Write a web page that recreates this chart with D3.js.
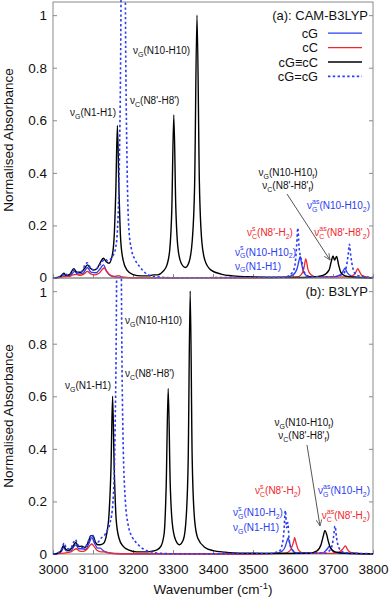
<!DOCTYPE html>
<html><head><meta charset="utf-8">
<script src="https://cdn.jsdelivr.net/npm/d3@7"></script>
<style>
html,body{margin:0;padding:0;background:#fff;}
text{font-family:"Liberation Sans",Arial,Helvetica,sans-serif;}
</style></head>
<body>
<svg id="chart" width="392" height="598"></svg>
<script>
// ---------- data (wavenumber cm-1, normalised absorbance) ----------
const xTickValues = [3000,3100,3200,3300,3400,3500,3600,3700,3800];
const yTickValues = [0,0.2,0.4,0.6,0.8,1];
const yTickLabels = ["0","0.2","0.4","0.6","0.8","1"];
const seriesNames = ["cG","cC","cG\u2261cC","cG=cG"];
const panelTitles = ["(a): CAM-B3LYP","(b): B3LYP"];

// panel (a) CAM-B3LYP
const camCG = [[3000,0],[3015,0.002],[3021,0.006],[3027,0.012],[3035,0.008],[3045,0.012],[3054,0.025],[3062,0.015],[3075,0.018],[3086,0.04],[3095,0.022],[3108,0.02],[3118,0.035],[3126,0.05],[3134,0.025],[3145,0.008],[3165,0.002],[3300,0],[3580,0.003],[3600,0.012],[3610,0.035],[3614,0.06],[3618,0.081],[3622,0.05],[3627,0.02],[3640,0.005],[3700,0.004],[3718,0.012],[3725,0.025],[3730,0.037],[3735,0.022],[3745,0.008],[3760,0.003],[3800,0.001]];
const camCC = [[3000,0],[3020,0.002],[3030,0.006],[3040,0.006],[3050,0.012],[3058,0.014],[3068,0.01],[3078,0.016],[3086,0.025],[3094,0.016],[3105,0.012],[3115,0.018],[3123,0.032],[3128,0.038],[3134,0.026],[3142,0.012],[3152,0.006],[3160,0.008],[3165,0.009],[3172,0.004],[3190,0.001],[3500,0],[3610,0.004],[3620,0.012],[3627,0.035],[3632,0.073],[3637,0.035],[3645,0.012],[3660,0.003],[3740,0.004],[3752,0.012],[3758,0.025],[3762,0.036],[3766,0.025],[3772,0.01],[3790,0.002],[3800,0.001]];
const camCGCC = [[3000,0],[3012,0.002],[3020,0.008],[3027,0.018],[3033,0.01],[3042,0.014],[3052,0.035],[3060,0.022],[3070,0.022],[3078,0.035],[3086,0.05],[3094,0.036],[3102,0.03],[3110,0.036],[3118,0.058],[3126,0.075],[3133,0.062],[3140,0.056],[3148,0.085],[3153,0.16],[3157,0.33],[3161,0.58],[3165,0.33],[3169,0.15],[3175,0.07],[3185,0.03],[3200,0.013],[3220,0.008],[3240,0.008],[3250,0.012],[3262,0.012],[3275,0.025],[3285,0.05],[3292,0.11],[3297,0.26],[3302,0.62],[3307,0.27],[3312,0.12],[3320,0.058],[3331,0.04],[3340,0.06],[3348,0.14],[3354,0.35],[3360,1.0],[3366,0.36],[3372,0.14],[3380,0.066],[3395,0.03],[3420,0.015],[3450,0.008],[3500,0.004],[3550,0.002],[3600,0.002],[3650,0.004],[3675,0.01],[3690,0.03],[3696,0.065],[3700,0.084],[3704,0.068],[3709,0.082],[3714,0.05],[3720,0.02],[3730,0.008],[3750,0.003],[3800,0.001]];
const camCGCG = [[3000,0],[3015,0.003],[3025,0.012],[3030,0.018],[3036,0.01],[3045,0.015],[3052,0.03],[3060,0.02],[3072,0.025],[3080,0.05],[3086,0.058],[3093,0.04],[3103,0.03],[3112,0.04],[3122,0.06],[3130,0.072],[3137,0.065],[3143,0.07],[3150,0.085],[3156,0.11],[3161,0.18],[3166,0.45],[3170,1.05],[3173,2.2],[3175.5,4.5],[3178,2.2],[3181,1.05],[3185,0.45],[3190,0.18],[3196,0.11],[3205,0.07],[3217,0.043],[3230,0.02],[3245,0.008],[3270,0.003],[3300,0.001],[3580,0.003],[3598,0.02],[3605,0.05],[3609,0.12],[3612,0.19],[3615,0.12],[3619,0.08],[3622,0.065],[3627,0.025],[3640,0.006],[3700,0.004],[3725,0.015],[3733,0.04],[3738,0.09],[3741,0.128],[3744,0.09],[3750,0.035],[3760,0.01],[3800,0.002]];

// panel (b) B3LYP
const b3CG = [[3000,0],[3015,0.003],[3022,0.012],[3027,0.025],[3033,0.012],[3045,0.012],[3052,0.028],[3057,0.035],[3064,0.02],[3072,0.02],[3082,0.018],[3090,0.04],[3097,0.062],[3104,0.04],[3112,0.022],[3118,0.022],[3126,0.012],[3140,0.004],[3170,0.001],[3500,0],[3560,0.003],[3574,0.012],[3581,0.03],[3585,0.05],[3588,0.061],[3592,0.04],[3598,0.015],[3610,0.004],[3670,0.003],[3680,0.01],[3686,0.02],[3691,0.03],[3696,0.018],[3703,0.007],[3720,0.002],[3800,0.001]];
const b3CC = [[3000,0],[3020,0.002],[3035,0.005],[3045,0.008],[3052,0.015],[3058,0.02],[3065,0.012],[3075,0.01],[3085,0.018],[3092,0.032],[3097,0.038],[3103,0.028],[3110,0.014],[3120,0.008],[3128,0.008],[3134,0.007],[3142,0.003],[3160,0.001],[3500,0],[3580,0.003],[3592,0.012],[3598,0.03],[3602,0.05],[3604,0.062],[3608,0.04],[3614,0.015],[3625,0.004],[3700,0.002],[3715,0.007],[3724,0.018],[3731,0.031],[3736,0.018],[3744,0.006],[3770,0.001],[3800,0]];
const b3CGCC = [[3000,0],[3012,0.003],[3020,0.012],[3026,0.032],[3032,0.018],[3040,0.014],[3050,0.03],[3057,0.044],[3064,0.028],[3072,0.03],[3080,0.025],[3088,0.045],[3095,0.07],[3100,0.07],[3106,0.045],[3112,0.035],[3118,0.035],[3126,0.04],[3134,0.075],[3140,0.15],[3145,0.33],[3149,0.6],[3153,0.33],[3158,0.13],[3165,0.06],[3175,0.03],[3190,0.015],[3210,0.008],[3230,0.008],[3245,0.01],[3260,0.016],[3270,0.03],[3278,0.08],[3283,0.26],[3288,0.63],[3293,0.27],[3298,0.12],[3306,0.055],[3316,0.035],[3326,0.055],[3333,0.14],[3338,0.36],[3343,1.0],[3348,0.36],[3354,0.13],[3362,0.06],[3380,0.025],[3400,0.013],[3430,0.007],[3480,0.003],[3550,0.002],[3640,0.003],[3660,0.012],[3670,0.035],[3676,0.07],[3680,0.09],[3684,0.075],[3688,0.05],[3694,0.022],[3705,0.008],[3730,0.003],[3800,0.001]];
const b3CGCG = [[3000,0],[3012,0.004],[3022,0.02],[3028,0.042],[3034,0.02],[3044,0.02],[3050,0.04],[3056,0.055],[3062,0.035],[3072,0.025],[3082,0.03],[3090,0.055],[3097,0.075],[3104,0.05],[3112,0.045],[3120,0.06],[3128,0.07],[3136,0.09],[3143,0.12],[3150,0.2],[3155,0.45],[3159,1.05],[3162,2.2],[3165,4.5],[3168,2.2],[3171,1.05],[3175,0.45],[3181,0.2],[3188,0.11],[3198,0.065],[3210,0.04],[3225,0.02],[3240,0.01],[3260,0.004],[3300,0.001],[3540,0.002],[3565,0.01],[3572,0.03],[3577,0.08],[3581,0.165],[3584,0.1],[3587,0.12],[3590,0.06],[3596,0.02],[3610,0.005],[3680,0.004],[3695,0.02],[3701,0.06],[3705,0.106],[3709,0.06],[3716,0.02],[3730,0.005],[3800,0.001]];

// ---------- styles ----------
const BLUE = "#2b3cf2", RED = "#f2262a", BLACK = "#000", FRAME = "#8a8a8a", ARROW = "#555";
const seriesStyle = [
  {color: BLUE, dash: null, w: 1.3},
  {color: RED, dash: null, w: 1.3},
  {color: BLACK, dash: null, w: 1.4},
  {color: BLUE, dash: "2.4,2.4", w: 1.6}
];

const svg = d3.select("#chart");
const x = d3.scaleLinear().domain([3000,3800]).range([53,373]);
const panels = [
  {y: d3.scaleLinear().domain([0,1.05]).range([278,2]), top: 2, bottom: 278, data: [camCG,camCC,camCGCC,camCGCG], clipTop: 0},
  {y: d3.scaleLinear().domain([0,1.05]).range([554,278]), top: 278, bottom: 554, data: [b3CG,b3CC,b3CGCC,b3CGCG], clipTop: 278}
];

const defs = svg.append("defs");
defs.append("marker").attr("id","arr").attr("viewBox","0 0 10 10").attr("refX",9).attr("refY",5)
  .attr("markerWidth",7).attr("markerHeight",7).attr("orient","auto").attr("markerUnits","userSpaceOnUse")
  .append("path").attr("d","M0,1 L9,5 L0,9").attr("fill","none").attr("stroke",ARROW).attr("stroke-width",1.2);

panels.forEach((p,i) => {
  defs.append("clipPath").attr("id","clip"+i).append("rect")
    .attr("x",53).attr("y",p.clipTop).attr("width",320).attr("height",p.bottom - p.clipTop + 1);
  const g = svg.append("g");
  g.append("rect").attr("x",53).attr("y",p.top).attr("width",320).attr("height",p.bottom-p.top)
    .attr("fill","none").attr("stroke",FRAME).attr("stroke-width",1);
  const yl = g.append("g").attr("transform","translate(53,0)")
    .call(d3.axisLeft(p.y).tickValues(yTickValues).tickSize(-4).tickPadding(6).tickFormat((d,k)=>yTickLabels[k]));
  const yr = g.append("g").attr("transform","translate(373,0)")
    .call(d3.axisRight(p.y).tickValues(yTickValues).tickSize(-4).tickFormat(""));
  const xb = g.append("g").attr("transform",`translate(0,${p.bottom})`)
    .call(d3.axisBottom(x).tickValues(xTickValues).tickSize(-4).tickPadding(10).tickFormat(i===1 ? d3.format("d") : ""));
  [yl,yr,xb].forEach(a => {
    a.select(".domain").remove();
    a.selectAll(".tick line").attr("stroke",FRAME);
    a.selectAll("text").attr("font-size","13.5px").attr("fill","#111")
      .style("font-family","'Liberation Sans',Arial,sans-serif");
  });
  // keep the touching "0" (a) and "1" (b) labels apart
  yl.selectAll(".tick").filter(d => (i===0 && d===0)).select("text").attr("y",-1.2);
  yl.selectAll(".tick").filter(d => (i===1 && d===1)).select("text").attr("y",1.2);
  const line = d3.line().x(d=>x(d[0])).y(d=>p.y(d[1])).curve(d3.curveMonotoneX);
  const cg = g.append("g").attr("clip-path",`url(#clip${i})`);
  p.data.forEach((s,k) => {
    const st = seriesStyle[k];
    cg.append("path").datum(s).attr("d",line).attr("fill","none")
      .attr("stroke",st.color).attr("stroke-width",st.w)
      .attr("stroke-dasharray",st.dash).attr("stroke-linejoin","round");
  });
  svg.append("text").attr("transform",`translate(12.5,${(p.top+p.bottom)/2}) rotate(-90)`)
    .attr("text-anchor","middle").attr("font-size","13.5px").attr("fill","#111").text("Normalised Absorbance");
  svg.append("text").attr("x",368).attr("y",p.top+18).attr("text-anchor","end")
    .attr("font-size","13px").attr("fill","#111").text(panelTitles[i]);
});

// legend (panel a)
const legY = [33.2,47.6,62,76.4];
seriesNames.forEach((n,k) => {
  const st = seriesStyle[k];
  svg.append("text").attr("x",318).attr("y",legY[k]+4.5).attr("text-anchor","end")
    .attr("font-size","12.8px").attr("fill","#111").text(n);
  svg.append("line").attr("x1",328).attr("x2",362).attr("y1",legY[k]).attr("y2",legY[k])
    .attr("stroke",st.color).attr("stroke-width",st.w).attr("stroke-dasharray",st.dash);
});

// x title
const xt = svg.append("text").attr("x",213).attr("y",594).attr("text-anchor","middle")
  .attr("font-size","13.5px").attr("fill","#111");
xt.append("tspan").text("Wavenumber (cm");
xt.append("tspan").attr("font-size","9.5px").attr("dy",-5).text("-1");
xt.append("tspan").attr("dy",5).text(")");

// rich text helper: _{sub} ^{sup}; a sup directly after a sub is stacked above it
function rich(px, py, anchor, color, str, size) {
  size = size || 10;
  const t = svg.append("text").attr("x",px).attr("y",py).attr("text-anchor",anchor)
    .attr("font-size",size+"px").attr("fill",color);
  const toks = str.match(/(_\{[^}]*\}|\^\{[^}]*\}|[^_^]+)/g);
  let cur = 0, prevSubW = 0, pending = 0, prevType = "n";
  toks.forEach(tok => {
    let type = "n", txt = tok;
    if (tok.startsWith("_{")) { type = "b"; txt = tok.slice(2,-1); }
    else if (tok.startsWith("^{")) { type = "p"; txt = tok.slice(2,-1); }
    const target = type==="b" ? 0.27*size : type==="p" ? -0.52*size : 0;
    const ts = t.append("tspan").attr("dy", target - cur).text(txt);
    if (type !== "n") ts.attr("font-size",(size*0.7)+"px");
    cur = target;
    if (type==="p" && prevType==="b") {
      ts.attr("dx", -prevSubW);
      const w = ts.node().getComputedTextLength();
      pending = Math.max(0, prevSubW - w);
    } else if (pending > 0) {
      ts.attr("dx", pending); pending = 0;
    }
    if (type==="b") prevSubW = ts.node().getComputedTextLength();
    prevType = type;
  });
  return t;
}

// annotations panel (a)
rich(70,116,"start","#111","ν_{G}(N1-H1)");
rich(130,104,"start","#111","ν_{C}(N8'-H8')");
rich(133,54,"start","#111","ν_{G}(N10-H10)");
rich(288,176,"middle","#111","ν_{G}(N10-H10_{f})");
rich(288,189.4,"middle","#111","ν_{C}(N8'-H8'_{f})");
rich(370,209,"end",BLUE,"ν_{G}^{as}(N10-H10_{2})");
rich(247,236,"start",RED,"ν_{C}^{s}(N8'-H_{2})");
rich(370,236,"end",RED,"ν_{C}^{as}(N8'-H8'_{2})");
rich(235,255.5,"start",BLUE,"ν_{G}^{s}(N10-H10_{2})");
rich(235,269.5,"start",BLUE,"ν_{G}(N1-H1)");
svg.append("line").attr("x1",287).attr("y1",194).attr("x2",330).attr("y2",260)
  .attr("stroke",ARROW).attr("stroke-width",1).attr("marker-end","url(#arr)");

// annotations panel (b)
rich(65,389,"start","#111","ν_{G}(N1-H1)");
rich(125,377,"start","#111","ν_{C}(N8'-H8')");
rich(125,324,"start","#111","ν_{G}(N10-H10)");
rich(304,426,"middle","#111","ν_{G}(N10-H10_{f})");
rich(304,439.4,"middle","#111","ν_{C}(N8'-H8'_{f})");
rich(255,494,"start",RED,"ν_{C}^{s}(N8'-H_{2})");
rich(370,494,"end",BLUE,"ν_{G}^{as}(N10-H_{2})");
rich(233,516,"start",BLUE,"ν_{G}^{s}(N10-H_{2})");
rich(370,519,"end",RED,"ν_{C}^{as}(N8'-H_{2})");
rich(233,531,"start",BLUE,"ν_{G}(N1-H1)");
svg.append("line").attr("x1",307).attr("y1",445).attr("x2",320).attr("y2",526)
  .attr("stroke",ARROW).attr("stroke-width",1).attr("marker-end","url(#arr)");
</script>
</body></html>
